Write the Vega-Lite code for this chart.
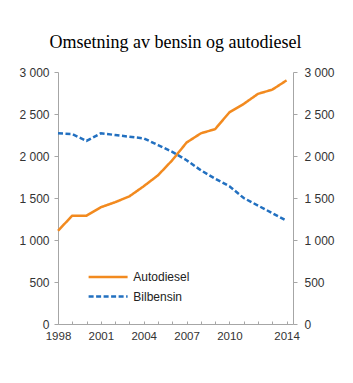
{
  "$schema": "https://vega.github.io/schema/vega-lite/v6.json",
  "width": 235,
  "height": 252,
  "autosize": "none",
  "padding": {"left": 58, "top": 72, "right": 60, "bottom": 59},
  "background": "white",
  "title": {
    "text": "Omsetning av bensin og autodiesel",
    "font": "Liberation Serif",
    "fontSize": 18,
    "fontWeight": "normal",
    "color": "#000000",
    "anchor": "middle",
    "frame": "group",
    "baseline": "alphabetic",
    "offset": 0
  },
  "config": {
    "view": {"stroke": null},
    "axis": {
      "grid": false,
      "domainColor": "#a6a6a6",
      "tickColor": "#a6a6a6",
      "labelColor": "#333333",
      "labelFont": "Liberation Sans",
      "labelFontSize": 11.5,
      "title": null
    },
    "legend": {
      "labelFont": "Liberation Sans",
      "labelFontSize": 12,
      "labelColor": "#222222"
    }
  },
  "data": {
    "values": [
      {"year": 1998, "series": "Autodiesel", "value": 1110},
      {"year": 1999, "series": "Autodiesel", "value": 1290},
      {"year": 2000, "series": "Autodiesel", "value": 1290},
      {"year": 2001, "series": "Autodiesel", "value": 1390},
      {"year": 2002, "series": "Autodiesel", "value": 1450},
      {"year": 2003, "series": "Autodiesel", "value": 1520},
      {"year": 2004, "series": "Autodiesel", "value": 1640},
      {"year": 2005, "series": "Autodiesel", "value": 1770},
      {"year": 2006, "series": "Autodiesel", "value": 1950},
      {"year": 2007, "series": "Autodiesel", "value": 2160},
      {"year": 2008, "series": "Autodiesel", "value": 2270},
      {"year": 2009, "series": "Autodiesel", "value": 2320},
      {"year": 2010, "series": "Autodiesel", "value": 2520},
      {"year": 2011, "series": "Autodiesel", "value": 2620},
      {"year": 2012, "series": "Autodiesel", "value": 2740},
      {"year": 2013, "series": "Autodiesel", "value": 2790},
      {"year": 2014, "series": "Autodiesel", "value": 2900},
      {"year": 1998, "series": "Bilbensin", "value": 2270},
      {"year": 1999, "series": "Bilbensin", "value": 2260},
      {"year": 2000, "series": "Bilbensin", "value": 2180},
      {"year": 2001, "series": "Bilbensin", "value": 2270},
      {"year": 2002, "series": "Bilbensin", "value": 2250},
      {"year": 2003, "series": "Bilbensin", "value": 2230},
      {"year": 2004, "series": "Bilbensin", "value": 2210},
      {"year": 2005, "series": "Bilbensin", "value": 2130},
      {"year": 2006, "series": "Bilbensin", "value": 2050},
      {"year": 2007, "series": "Bilbensin", "value": 1950},
      {"year": 2008, "series": "Bilbensin", "value": 1830},
      {"year": 2009, "series": "Bilbensin", "value": 1730},
      {"year": 2010, "series": "Bilbensin", "value": 1640},
      {"year": 2011, "series": "Bilbensin", "value": 1500},
      {"year": 2012, "series": "Bilbensin", "value": 1410},
      {"year": 2013, "series": "Bilbensin", "value": 1320},
      {"year": 2014, "series": "Bilbensin", "value": 1230}
    ]
  },
  "layer": [
    {
      "mark": {"type": "line", "strokeWidth": 2.5},
      "encoding": {
        "x": {
          "field": "year",
          "type": "quantitative",
          "scale": {"domain": [1998, 2014.45], "nice": false, "zero": false},
          "axis": {
            "values": [1998, 1999, 2000, 2001, 2002, 2003, 2004, 2005, 2006, 2007, 2008, 2009, 2010, 2011, 2012, 2013, 2014],
            "labelExpr": "indexof([1998,2001,2004,2007,2010,2014], datum.value) >= 0 ? format(datum.value, 'd') : ''",
            "tickSize": -3,
            "labelPadding": 9,
            "labelOverlap": false,
            "labelFlush": false
          }
        },
        "y": {
          "field": "value",
          "type": "quantitative",
          "scale": {"domain": [0, 3000], "nice": false},
          "axis": {
            "orient": "left",
            "values": [0, 500, 1000, 1500, 2000, 2500, 3000],
            "labelExpr": "replace(format(datum.value, ','), ',', ' ')",
            "labelFontSize": 12,
            "tickSize": 4,
            "labelPadding": 5
          }
        },
        "color": {
          "field": "series",
          "type": "nominal",
          "scale": {"domain": ["Autodiesel", "Bilbensin"], "range": ["#F28A1F", "#2270C0"]},
          "legend": {
            "title": null,
            "orient": "none",
            "legendX": 43.6,
            "legendY": 198.5,
            "symbolType": "M-4,0H4",
            "symbolSize": 95,
            "symbolStrokeWidth": 2.5,
            "labelOffset": 18.7,
            "rowPadding": 6.5
          }
        },
        "strokeDash": {
          "field": "series",
          "type": "nominal",
          "scale": {"domain": ["Autodiesel", "Bilbensin"], "range": [[1, 0], [5, 2.5]]},
          "legend": {
            "title": null,
            "orient": "none",
            "legendX": 43.6,
            "legendY": 198.5,
            "symbolType": "M-4,0H4",
            "symbolSize": 95,
            "symbolStrokeWidth": 2.5,
            "labelOffset": 18.7,
            "rowPadding": 6.5
          }
        }
      }
    },
    {
      "mark": {"type": "line", "opacity": 0},
      "encoding": {
        "x": {
          "field": "year",
          "type": "quantitative",
          "scale": {"domain": [1998, 2014.45], "nice": false, "zero": false},
          "axis": {
            "values": [1998, 1999, 2000, 2001, 2002, 2003, 2004, 2005, 2006, 2007, 2008, 2009, 2010, 2011, 2012, 2013, 2014],
            "labelExpr": "indexof([1998,2001,2004,2007,2010,2014], datum.value) >= 0 ? format(datum.value, 'd') : ''",
            "tickSize": -3,
            "labelPadding": 9,
            "labelOverlap": false,
            "labelFlush": false
          }
        },
        "y": {
          "field": "value",
          "type": "quantitative",
          "scale": {"domain": [0, 3000], "nice": false},
          "axis": {
            "orient": "right",
            "values": [0, 500, 1000, 1500, 2000, 2500, 3000],
            "labelExpr": "replace(format(datum.value, ','), ',', ' ')",
            "labelFontSize": 12,
            "tickSize": 4,
            "labelPadding": 7
          }
        },
        "detail": {"field": "series", "type": "nominal"}
      }
    }
  ],
  "resolve": {"scale": {"y": "independent"}}
}
